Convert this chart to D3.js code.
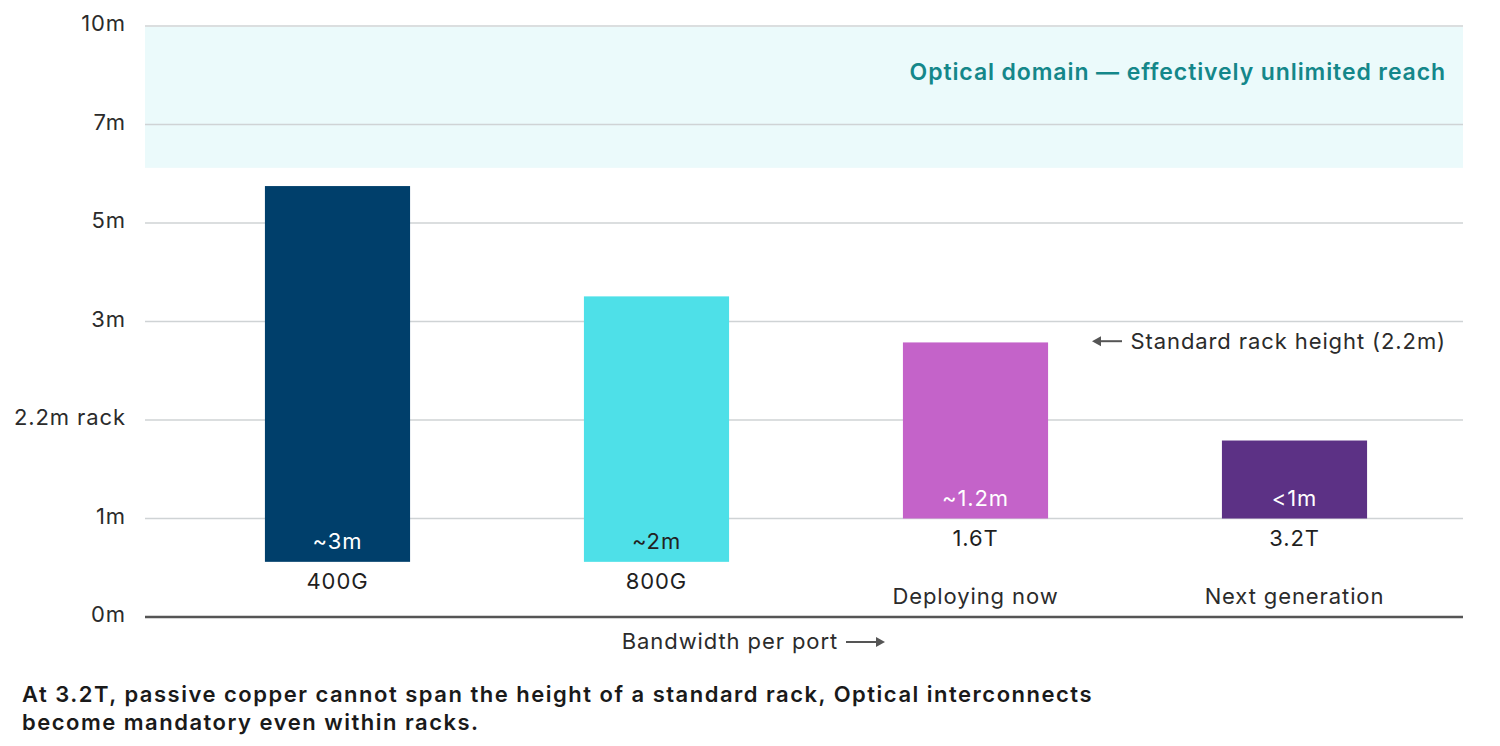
<!DOCTYPE html>
<html>
<head>
<meta charset="utf-8">
<script src="https://cdn.jsdelivr.net/npm/d3@7"></script>
<style>
  body { margin: 0; background: #fff; }
  svg { display: block; font-family: Inter, "Noto Sans", sans-serif; }
</style>
</head>
<body>
<svg id="chart" width="1500" height="746"></svg>
<script>
// tick values on the (non-linear) reach axis, and their labels
var tickValues = [0, 1, 2.2, 3, 5, 7, 10];
var tickLabels = ["0m", "1m", "2.2m rack", "3m", "5m", "7m", "10m"];

// bandwidth categories
var categories = ["400G", "800G", "1.6T", "3.2T"];
var valueLabels = ["~3m", "~2m", "~1.2m", "<1m"];
var subLabels = ["", "", "Deploying now", "Next generation"];
var barColors = ["#003f6b", "#4ee0e8", "#c463c9", "#5c3185"];
var valueLabelColors = ["#ffffff", "#222222", "#ffffff", "#ffffff"];

// bar extents read on the reach axis (bars float above the baseline)
var barTop = [5.75, 3.51, 2.83, 1.95];
var barBase = [0.56, 0.56, 1.0, 1.0];

// optical region
var opticalFrom = 6.12;
var opticalTo = 10;
var rackNoteAt = 2.84;

var svg = d3.select("#chart");
var left = 145, right = 1463;
var fs = 22, ls = 0.9;

var y = d3.scaleLinear()
  .domain(tickValues)
  .range(tickValues.map(function(d, i) { return 617 - i * 98.5; }));

var x = d3.scaleBand()
  .domain(categories)
  .range([178, 1454])
  .paddingInner(0.545)
  .paddingOuter(0.2725);

// optical band
svg.append("rect")
  .attr("x", left)
  .attr("y", y(opticalTo) + 1)
  .attr("width", right - left)
  .attr("height", y(opticalFrom) - y(opticalTo) - 1)
  .attr("fill", "#ebfafb");

// gridlines
svg.selectAll(".grid")
  .data(tickValues.slice(1))
  .enter()
  .append("line")
  .attr("x1", left)
  .attr("x2", right)
  .attr("y1", d => y(d))
  .attr("y2", d => y(d))
  .attr("stroke", "#cfd3d5")
  .attr("stroke-width", 1.5);

// baseline
svg.append("line")
  .attr("x1", left)
  .attr("x2", right)
  .attr("y1", y(0))
  .attr("y2", y(0))
  .attr("stroke", "#555")
  .attr("stroke-width", 2.5);

// tick labels
svg.selectAll(".tick")
  .data(tickValues)
  .enter()
  .append("text")
  .attr("x", 126)
  .attr("y", d => y(d) + 5)
  .attr("text-anchor", "end")
  .attr("font-size", fs)
  .attr("letter-spacing", ls)
  .attr("fill", "#2b2b2b")
  .text((d, i) => tickLabels[i]);

// bars
svg.selectAll(".bar")
  .data(categories)
  .enter()
  .append("rect")
  .attr("x", d => x(d))
  .attr("y", (d, i) => y(barTop[i]))
  .attr("width", x.bandwidth())
  .attr("height", (d, i) => y(barBase[i]) - y(barTop[i]))
  .attr("fill", (d, i) => barColors[i]);

// value labels inside bars
svg.selectAll(".val")
  .data(categories)
  .enter()
  .append("text")
  .attr("x", d => x(d) + x.bandwidth() / 2)
  .attr("y", (d, i) => y(barBase[i]) - 13)
  .attr("text-anchor", "middle")
  .attr("font-size", fs)
  .attr("letter-spacing", ls)
  .attr("fill", (d, i) => valueLabelColors[i])
  .text((d, i) => valueLabels[i]);

// category labels
svg.selectAll(".cat")
  .data(categories)
  .enter()
  .append("text")
  .attr("x", d => x(d) + x.bandwidth() / 2)
  .attr("y", (d, i) => y(barBase[i]) + 27)
  .attr("text-anchor", "middle")
  .attr("font-size", fs)
  .attr("letter-spacing", ls)
  .attr("fill", "#1f1f1f")
  .text(d => d);

// sub labels
svg.selectAll(".sub")
  .data(categories)
  .enter()
  .append("text")
  .attr("x", d => x(d) + x.bandwidth() / 2)
  .attr("y", (d, i) => y(barBase[i]) + 85)
  .attr("text-anchor", "middle")
  .attr("font-size", fs)
  .attr("letter-spacing", ls)
  .attr("fill", "#2b2b2b")
  .text((d, i) => subLabels[i]);

// optical domain label
svg.append("text")
  .attr("x", 1446)
  .attr("y", 80)
  .attr("text-anchor", "end")
  .attr("font-size", 23)
  .attr("letter-spacing", ls)
  .attr("font-weight", 600)
  .attr("fill", "#14878a")
  .text("Optical domain \u2014 effectively unlimited reach");

// rack note with arrow
svg.append("text")
  .attr("x", 1446)
  .attr("y", y(rackNoteAt) + 8)
  .attr("text-anchor", "end")
  .attr("font-size", fs)
  .attr("letter-spacing", ls)
  .attr("fill", "#2b2b2b")
  .text("Standard rack height (2.2m)");
svg.append("line")
  .attr("x1", 1122).attr("x2", 1098)
  .attr("y1", y(rackNoteAt)).attr("y2", y(rackNoteAt))
  .attr("stroke", "#555").attr("stroke-width", 2);
svg.append("path")
  .attr("d", "M1092," + y(rackNoteAt) + "l9,-5l0,10z")
  .attr("fill", "#555");

// x axis title with arrow
svg.append("text")
  .attr("x", 838)
  .attr("y", 649)
  .attr("text-anchor", "end")
  .attr("font-size", fs)
  .attr("letter-spacing", ls)
  .attr("fill", "#2b2b2b")
  .text("Bandwidth per port");
svg.append("line")
  .attr("x1", 846).attr("x2", 876)
  .attr("y1", 642).attr("y2", 642)
  .attr("stroke", "#555").attr("stroke-width", 2);
svg.append("path")
  .attr("d", "M885,642l-9,-5l0,10z")
  .attr("fill", "#555");

// footnote
var foot = ["At 3.2T, passive copper cannot span the height of a standard rack, Optical interconnects",
  "become mandatory even within racks."];
svg.selectAll(".foot")
  .data(foot)
  .enter()
  .append("text")
  .attr("x", 22)
  .attr("y", (d, i) => 702 + i * 28)
  .attr("font-size", fs)
  .attr("letter-spacing", 1.5)
  .attr("font-weight", 600)
  .attr("fill", "#1a1a1a")
  .text(d => d);
</script>
</body>
</html>
